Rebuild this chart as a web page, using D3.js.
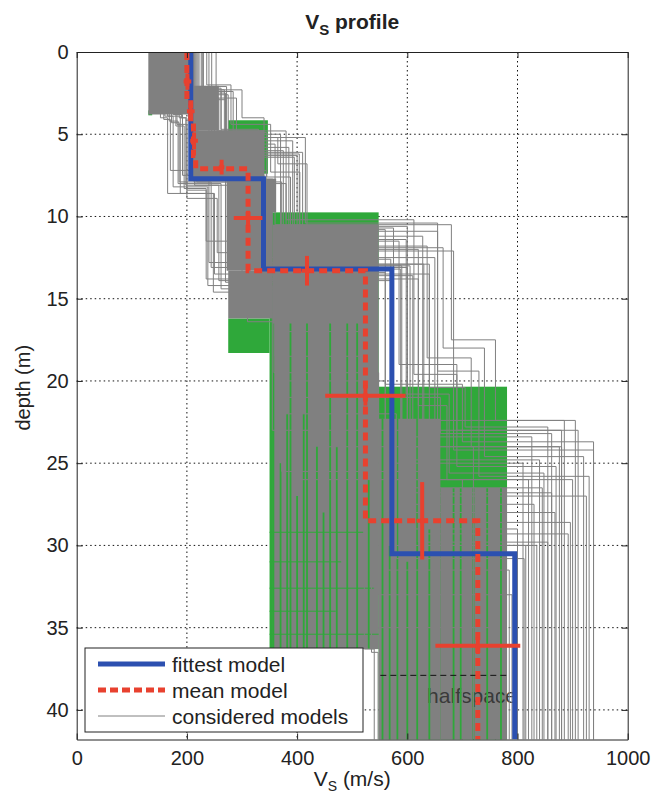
<!DOCTYPE html>
<html>
  <head>
    <meta charset='utf-8' />
    <title>Vs profile</title>
    <script src="https://d3js.org/d3.v7.min.js"></script>
    <style>
body {
  margin: 0;
  font-family: "Liberation Sans", Arial, sans-serif;
  background: #fff;
}
.grid line {
  stroke: #111;
  stroke-width: 1;
  stroke-dasharray: 1.5,3;
}
.axis path, .axis line {
  stroke: #222;
  stroke-width: 1;
}
.axis text {
  font-size: 20px;
  fill: #222;
  font-family: "Liberation Sans", Arial, sans-serif;
}
    </style>
  </head>
  <body>
    <div id="graphic"></div>
    <script>
      // fittest model: layer Vs and bottom depth
      const fitVs = [207, 339, 572, 795];
      const fitBottom = [7.7, 13.2, 30.5, 41.8];

      // mean model
      const meanVs = [200, 207, 212, 216, 311, 524, 728];
      const meanBottom = [2.7, 4.5, 6.3, 7.1, 13.3, 28.5, 41.8];

      // mean model uncertainty crosses
      const crossVs = [201, 207, 213, 263, 311, 418, 524, 627, 728];
      const crossDepth = [1.8, 3.6, 5.4, 7.0, 10.1, 13.3, 20.9, 28.5, 36.1];
      const crossVsErr = [7, 7, 7, 5, 26, 10, 73, 10, 77];
      const crossDepthErr = [0.5, 0.5, 0.5, 0.45, 0.45, 0.9, 0.6, 2.35, 0.5];

      // dense areas of considered models [vsMin, vsMax, top, bottom]
      const greenBlocks = [
        [130, 137, 3.55, 3.85],
        [275, 347, 4.15, 7.4],
        [275, 350, 16.2, 18.3],
        [350, 548, 9.75, 36.3],
        [548, 781, 20.35, 41.8]
      ];
      const grayBlocks = [
        [130, 203, 0, 3.8],
        [206, 258, 2.05, 4.75],
        [206, 340, 4.75, 7.7],
        [272, 356, 7.7, 13.3],
        [345, 362, 7.7, 9.75],
        [275, 356, 13.3, 16.2],
        [356, 548, 10.5, 36.3],
        [548, 660, 22.3, 41.8],
        [660, 781, 26.5, 41.8]
      ];
      // green model lines showing through the gray [vs, top, bottom]
      const greenStripes = [
        [357, 16.5, 36.3], [370, 25, 36.3], [382, 22, 36.3], [388, 16.5, 36.3],
        [400, 27, 36.3], [412, 22, 36.3], [418, 16.5, 36.3], [436, 24, 36.3],
        [448, 28, 36.3], [460, 16.5, 36.3], [472, 24, 36.3], [491, 16.5, 36.3],
        [509, 16.5, 36.3], [530, 26, 36.3],
        [555, 22.3, 41.8], [568, 30, 41.8], [582, 22.3, 41.8], [600, 31, 41.8],
        [618, 22.3, 41.8], [640, 29, 41.8], [684, 26.5, 41.8], [697, 26.5, 41.8],
        [720, 26.5, 41.8], [745, 26.5, 41.8], [770, 26.5, 41.8]
      ];
      // horizontal green model lines [vsFrom, vsTo, depth]
      const greenLevels = [
        [350, 520, 29.2], [350, 480, 31.0], [350, 540, 32.6], [350, 470, 34.0], [350, 548, 35.4]
      ];

      // individual considered models: [vs, bottom depth] per layer
      const models = [
        [[218,2.2],[262,4.7],[330,7.9],[372,10.6],[600,24.8],[840,41.8]],
        [[226,2.5],[270,4.9],[345,7.6],[388,11.2],[628,23.0],[880,41.8]],
        [[236,2.0],[280,4.4],[352,7.3],[405,10.9],[655,22.4],[905,41.8]],
        [[245,2.8],[290,5.2],[365,6.8],[418,12.1],[684,24.2],[938,41.8]],
        [[253,2.3],[300,4.0],[340,8.0],[380,12.6],[570,26.0],[820,41.8]],
        [[152,4.0],[165,8.6],[250,13.5],[365,20.0],[560,31.5],[785,41.8]],
        [[160,3.9],[175,8.2],[238,14.2],[355,23.0],[610,29.0],[800,41.8]],
        [[168,4.2],[184,8.0],[262,14.4],[372,25.5],[650,30.0],[815,41.8]],
        [[175,3.8],[192,7.5],[270,14.0],[380,21.0],[590,27.5],[830,41.8]],
        [[182,4.4],[200,8.4],[235,13.8],[360,18.5],[540,35.0],[760,41.8]],
        [[158,4.1],[170,7.2],[240,12.8],[362,16.0],[522,36.3],[540,41.8]],
        [[165,3.9],[188,8.6],[248,14.6],[368,17.0],[535,36.5],[547,41.8]],
        [[205,2.6],[245,6.1],[410,10.8],[560,20.2],[700,23.7],[938,41.8]],
        [[212,3.0],[255,6.4],[395,11.5],[585,19.0],[690,25.2],[870,41.8]],
        [[208,2.4],[262,6.0],[375,12.0],[620,21.5],[672,26.0],[900,41.8]],
        [[220,2.9],[270,5.8],[385,12.9],[640,20.4],[705,22.8],[855,41.8]],
        [[200,2.1],[240,6.3],[400,11.9],[665,18.0],[740,24.6],[920,41.8]],
        [[214,2.7],[250,5.6],[360,10.5],[680,17.5],[760,22.4],[885,41.8]],
        [[205,3.5],[210,7.7],[330,13.0],[590,26.5],[845,41.8]],
        [[200,3.0],[212,7.4],[335,13.6],[610,28.0],[868,41.8]],
        [[208,2.2],[218,7.9],[342,12.9],[630,29.3],[892,41.8]],
        [[202,3.2],[206,7.1],[325,13.9],[575,25.0],[810,41.8]],
        [[210,2.8],[214,8.1],[350,12.5],[650,27.0],[925,41.8]],
        [[198,3.4],[220,7.6],[338,13.4],[560,30.0],[835,41.8]],
        [[203,2.9],[216,7.8],[345,13.1],[600,24.0],[880,41.8]],
        [[207,3.1],[209,7.3],[330,13.8],[620,29.8],[855,41.8]],
        [[180,4.5],[195,8.3],[235,11.5],[300,15.8],[400,26.0],[700,41.8]],
        [[190,4.0],[200,8.9],[255,12.2],[310,16.4],[450,24.0],[720,41.8]],
        [[230,2.6],[275,5.0],[370,10.7],[575,21.0],[660,23.2],[862,41.8]],
        [[222,2.3],[268,5.4],[392,11.4],[598,20.8],[676,25.6],[848,41.8]],
        [[240,2.4],[284,4.8],[380,10.2],[612,19.6],[690,23.0],[910,41.8]],
        [[216,2.8],[258,6.2],[404,11.8],[636,18.6],[716,24.0],[876,41.8]],
        [[228,2.1],[272,5.2],[415,10.4],[655,19.4],[730,25.8],[930,41.8]],
        [[206,3.3],[212,7.5],[340,13.2],[588,23.4],[826,41.8]],
        [[204,2.7],[213,7.9],[336,13.0],[605,26.8],[862,41.8]],
        [[209,3.0],[215,7.2],[344,13.5],[640,28.6],[896,41.8]],
        [[172,4.3],[186,7.9],[244,13.1],[358,19.5],[548,33.0],[790,41.8]],
        [[186,4.0],[198,8.1],[258,13.9],[366,22.0],[580,30.8],[812,41.8]]
      ];

      // dashed line near the bottom [vsFrom, vsTo, depth]
      const bottomLine = [551, 781, 37.9];
      const halfspaceLabel = {text: "halfspace", vs: 636, depth: 39.6};

      const xTicks = [0, 200, 400, 600, 800, 1000];
      const yTicks = [0, 5, 10, 15, 20, 25, 30, 35, 40];

      const colors = {fit: "#2c50b0", mean: "#e8412f", green: "#2fa83a", gray: "#808080"};

      const margin = {top: 52, right: 24.3, bottom: 57.5, left: 76.7};
      const width = 652 - margin.left - margin.right;
      const height = 797 - margin.top - margin.bottom;

      const root = d3.select("#graphic").append("svg")
        .attr("width", 652)
        .attr("height", 797)
        .style("display", "block");

      const svg = root.append("g")
        .attr("transform", "translate(" + margin.left + "," + margin.top + ")");

      const x = d3.scaleLinear().domain([0, 1000]).range([0, width]);
      const y = d3.scaleLinear().domain([0, 41.8]).range([0, height]);

      // grid
      svg.append("g").attr("class", "grid")
        .selectAll("line").data(xTicks.slice(1, -1)).enter().append("line")
        .attr("x1", (d) => x(d)).attr("x2", (d) => x(d))
        .attr("y1", 0).attr("y2", height);
      svg.append("g").attr("class", "grid")
        .selectAll("line").data(yTicks.slice(1)).enter().append("line")
        .attr("y1", (d) => y(d)).attr("y2", (d) => y(d))
        .attr("x1", 0).attr("x2", width);

      svg.append("clipPath").attr("id", "clip")
        .append("rect").attr("width", width).attr("height", height);
      const body = svg.append("g").attr("clip-path", "url(#clip)");

      const rect = (sel, data, color) => sel.selectAll(null).data(data).enter().append("rect")
        .attr("x", (d) => x(d[0]))
        .attr("width", (d) => x(d[1]) - x(d[0]))
        .attr("y", (d) => y(d[2]))
        .attr("height", (d) => y(d[3]) - y(d[2]))
        .attr("fill", color);

      rect(body.append("g"), greenBlocks, colors.green);
      rect(body.append("g"), grayBlocks, colors.gray);

      body.append("text")
        .attr("x", x(halfspaceLabel.vs))
        .attr("y", y(halfspaceLabel.depth))
        .style("font-size", "21px")
        .style("fill", "#3a3a3a")
        .text(halfspaceLabel.text);

      body.append("g").selectAll("line").data(greenStripes).enter().append("line")
        .attr("x1", (d) => x(d[0])).attr("x2", (d) => x(d[0]))
        .attr("y1", (d) => y(d[1])).attr("y2", (d) => y(d[2]))
        .style("stroke", colors.green).style("stroke-width", 1.8);

      body.append("g").selectAll("line").data(greenLevels).enter().append("line")
        .attr("x1", (d) => x(d[0])).attr("x2", (d) => x(d[1]))
        .attr("y1", (d) => y(d[2])).attr("y2", (d) => y(d[2]))
        .style("stroke", colors.green).style("stroke-width", 1);

      // step profile from [vs, bottom] layers
      const stepPoints = (layers) => {
        const pts = [];
        let top = 0;
        layers.forEach((l) => {
          pts.push([l[0], top], [l[0], l[1]]);
          top = l[1];
        });
        return pts;
      };
      const line = d3.line().x((d) => x(d[0])).y((d) => y(d[1]));

      body.append("g").selectAll("path").data(models).enter().append("path")
        .attr("d", (d) => line(stepPoints(d)))
        .style("fill", "none")
        .style("stroke", colors.gray)
        .style("stroke-width", 1);

      body.append("line")
        .attr("x1", x(bottomLine[0])).attr("x2", x(bottomLine[1]))
        .attr("y1", y(bottomLine[2])).attr("y2", y(bottomLine[2]))
        .style("stroke", "#111").style("stroke-dasharray", "6,4").style("stroke-width", 1);

      // fittest and mean models
      body.append("path")
        .attr("d", line(stepPoints(fitVs.map((v, i) => [v, fitBottom[i]]))))
        .style("fill", "none").style("stroke", colors.fit).style("stroke-width", 5);

      body.append("path")
        .attr("d", line(stepPoints(meanVs.map((v, i) => [v, meanBottom[i]]))))
        .style("fill", "none").style("stroke", colors.mean).style("stroke-width", 5)
        .style("stroke-dasharray", "8,5");

      const crosses = body.append("g").selectAll("g").data(crossVs).enter().append("g");
      crosses.append("line")
        .attr("x1", (d, i) => x(d - crossVsErr[i])).attr("x2", (d, i) => x(d + crossVsErr[i]))
        .attr("y1", (d, i) => y(crossDepth[i])).attr("y2", (d, i) => y(crossDepth[i]))
        .style("stroke", colors.mean).style("stroke-width", 4);
      crosses.append("line")
        .attr("x1", (d) => x(d)).attr("x2", (d) => x(d))
        .attr("y1", (d, i) => y(crossDepth[i] - crossDepthErr[i]))
        .attr("y2", (d, i) => y(crossDepth[i] + crossDepthErr[i]))
        .style("stroke", colors.mean).style("stroke-width", 4);

      // axes with inward ticks on all sides
      svg.append("g").attr("class", "axis")
        .attr("transform", "translate(0," + height + ")")
        .call(d3.axisBottom(x).tickValues(xTicks).tickFormat(d3.format("d"))
          .tickSize(-6).tickSizeOuter(0).tickPadding(11));
      svg.append("g").attr("class", "axis")
        .call(d3.axisTop(x).tickValues(xTicks).tickSize(-6).tickSizeOuter(0).tickFormat(""));
      svg.append("g").attr("class", "axis")
        .call(d3.axisLeft(y).tickValues(yTicks).tickSize(-6).tickSizeOuter(0).tickPadding(8));
      svg.append("g").attr("class", "axis")
        .attr("transform", "translate(" + width + ",0)")
        .call(d3.axisRight(y).tickValues(yTicks).tickSize(-6).tickSizeOuter(0).tickFormat(""));

      // titles
      const title = root.append("text")
        .attr("x", margin.left + width / 2).attr("y", 29)
        .attr("text-anchor", "middle")
        .style("font-size", "21px").style("font-weight", "bold").style("fill", "#222");
      title.append("tspan").text("V");
      title.append("tspan").attr("dy", 6).style("font-size", "15px").text("S");
      title.append("tspan").attr("dy", -6).text(" profile");

      const xTitle = root.append("text")
        .attr("x", margin.left + width / 2).attr("y", 786)
        .attr("text-anchor", "middle")
        .style("font-size", "21px").style("fill", "#222");
      xTitle.append("tspan").text("V");
      xTitle.append("tspan").attr("dy", 5).style("font-size", "14px").text("S");
      xTitle.append("tspan").attr("dy", -5).text(" (m/s)");

      root.append("text")
        .attr("transform", "translate(30," + (margin.top + height / 2 - 8) + ") rotate(-90)")
        .attr("text-anchor", "middle")
        .style("font-size", "20px").style("fill", "#222")
        .text("depth (m)");

      // legend
      const legendItems = [
        {label: "fittest model", color: colors.fit, width: 5, dash: null},
        {label: "mean model", color: colors.mean, width: 5, dash: "8,4"},
        {label: "considered models", color: colors.gray, width: 1, dash: null}
      ];
      const legend = root.append("g").attr("transform", "translate(85,648)");
      legend.append("rect")
        .attr("width", 278).attr("height", 84)
        .style("fill", "#fff").style("stroke", "#222").style("stroke-width", 1);
      const items = legend.selectAll("g.item").data(legendItems).enter().append("g")
        .attr("transform", (d, i) => "translate(0," + (16 + i * 26) + ")");
      items.append("line")
        .attr("x1", 13).attr("x2", 80)
        .style("stroke", (d) => d.color)
        .style("stroke-width", (d) => d.width)
        .style("stroke-dasharray", (d) => d.dash);
      items.append("text")
        .attr("x", 87).attr("y", 8)
        .style("font-size", "21px").style("fill", "#222")
        .text((d) => d.label);
    </script>
  </body>
</html>
